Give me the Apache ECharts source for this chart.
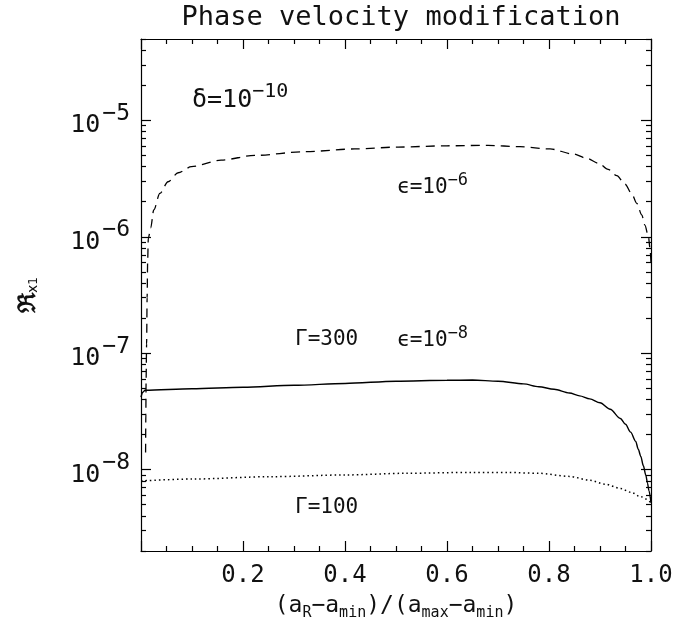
<!DOCTYPE html>
<html><head><meta charset="utf-8">
<script src="https://cdn.jsdelivr.net/npm/echarts@6/dist/echarts.min.js"></script>
<style>html,body{margin:0;padding:0;background:#fff}#c{width:697px;height:636px}</style>
</head><body><div id="c"></div>
<script>
// ---- data ----
const xTickValues = [0.2, 0.4, 0.6, 0.8, 1.0];
const xTickLabels = ['0.2', '0.4', '0.6', '0.8', '1.0'];
const yMajorTicks = [1e-8, 1e-7, 1e-6, 1e-5];
const yTickExponents = ['−8', '−7', '−6', '−5'];

// dashed: eps = 1e-6
const dashedX = [0.009, 0.0095, 0.010, 0.011, 0.012, 0.013, 0.0143, 0.019, 0.025, 0.037, 0.053, 0.073, 0.099, 0.157, 0.223, 0.321, 0.419, 0.504, 0.60, 0.68, 0.743, 0.802, 0.848, 0.874, 0.897, 0.916, 0.933, 0.949, 0.962, 0.972, 0.982, 0.988, 0.995, 0.998, 1.0];
const dashedY = [1.4e-8, 3e-8, 6e-8, 1.2e-7, 3e-7, 6e-7, 9.7e-7, 1.19e-6, 1.7e-6, 2.36e-6, 2.97e-6, 3.55e-6, 4.0e-6, 4.56e-6, 5.0e-6, 5.38e-6, 5.68e-6, 5.9e-6, 6.05e-6, 6.1e-6, 5.95e-6, 5.68e-6, 5.14e-6, 4.72e-6, 4.28e-6, 3.8e-6, 3.35e-6, 2.84e-6, 2.36e-6, 1.94e-6, 1.54e-6, 1.26e-6, 1.0e-6, 8e-7, 6e-7];

// solid: Gamma = 300, eps = 1e-8
const solidX = [0.0, 0.003, 0.008, 0.1, 0.2, 0.3, 0.4, 0.5, 0.6, 0.65, 0.7, 0.75, 0.78, 0.81, 0.84, 0.86, 0.88, 0.90, 0.92, 0.94, 0.95, 0.96, 0.97, 0.975, 0.98, 0.985, 0.99, 0.993, 0.996, 1.0];
const solidY = [4.2e-8, 4.6e-8, 4.8e-8, 4.95e-8, 5.1e-8, 5.3e-8, 5.5e-8, 5.75e-8, 5.85e-8, 5.88e-8, 5.75e-8, 5.45e-8, 5.15e-8, 4.9e-8, 4.55e-8, 4.3e-8, 4.05e-8, 3.75e-8, 3.3e-8, 2.75e-8, 2.45e-8, 2.1e-8, 1.75e-8, 1.5e-8, 1.3e-8, 1.08e-8, 8.9e-9, 7.7e-9, 6.6e-9, 5.2e-9];

// dotted: Gamma = 100
const dottedX = [0.0, 0.1, 0.255, 0.4, 0.52, 0.65, 0.72, 0.78, 0.84, 0.88, 0.91, 0.94, 0.96, 0.98, 1.0];
const dottedY = [8.0e-9, 8.3e-9, 8.7e-9, 9.0e-9, 9.3e-9, 9.47e-9, 9.45e-9, 9.3e-9, 8.75e-9, 8.1e-9, 7.5e-9, 6.9e-9, 6.4e-9, 5.85e-9, 5.2e-9];

const Y_MIN = 2e-9, Y_MAX = 5e-5;
// minor ticks 2..9 x each decade within the range
const yMinorTicks = [];
for (let d = -9; d <= -5; d++) {
  for (let m = 2; m <= 9; m++) {
    const v = m * Math.pow(10, d);
    if (v >= Y_MIN * 0.999 && v <= Y_MAX * 1.001) yMinorTicks.push(v);
  }
}

const FONT = 'DejaVu Sans Mono';
const INK = '#111';
const zip = (xs, ys) => xs.map((x, i) => [x, ys[i]]);

const axisLineStyle = { color: '#000', width: 1.2 };

function xAxisDef(pos, labels) {
  return {
    type: 'value', position: pos, min: 0, max: 1, interval: 0.2,
    axisLine: { show: true, lineStyle: axisLineStyle },
    axisTick: { show: true, inside: true, length: 10, lineStyle: axisLineStyle },
    minorTick: { show: true, splitNumber: 4, length: 5, lineStyle: axisLineStyle },
    splitLine: { show: false }, minorSplitLine: { show: false },
    axisLabel: labels ? {
      show: true, customValues: xTickValues,
      formatter: (v) => xTickLabels[xTickValues.findIndex(t => Math.abs(t - v) < 1e-9)] || '',
      fontFamily: FONT, fontSize: 24, color: INK, margin: 13
    } : { show: false }
  };
}

function yAxisDef(pos, major, withLabels) {
  const o = {
    type: 'log', position: pos, min: Y_MIN, max: Y_MAX, logBase: 10,
    axisLine: { show: major, lineStyle: axisLineStyle },
    axisTick: { show: true, inside: true, length: major ? 10 : 5,
      customValues: major ? yMajorTicks : yMinorTicks, lineStyle: axisLineStyle },
    minorTick: { show: false },
    splitLine: { show: false },
    axisLabel: { show: false }
  };
  if (withLabels) {
    o.axisLabel = {
      show: true, customValues: yMajorTicks, margin: 11,
      formatter: (v) => {
        const i = yMajorTicks.findIndex(t => Math.abs(Math.log10(t) - Math.log10(v)) < 1e-6);
        return '{b|10}{s|' + yTickExponents[i] + '}';
      },
      rich: {
        b: { fontFamily: FONT, fontSize: 25, color: INK, verticalAlign: 'bottom' },
        s: { fontFamily: FONT, fontSize: 23, color: INK, verticalAlign: 'bottom', padding: [0, 0, 13, 2] }
      }
    };
    o.name = '{r|ℜ}{s|x}{t|1}';
    o.nameLocation = 'middle';
    o.nameGap = 100;
    o.nameTextStyle = {
      rich: {
        r: { fontFamily: 'DejaVu Serif', fontSize: 24, color: INK, verticalAlign: 'top', fontWeight: 'bold' },
        s: { fontFamily: 'DejaVu Sans', fontSize: 14, color: INK, verticalAlign: 'top', padding: [9, 0, 0, 0] },
        t: { fontFamily: 'DejaVu Sans', fontSize: 12, color: INK, verticalAlign: 'top', padding: [11, 0, 0, 0] }
      }
    };
  }
  return o;
}

const xMain = xAxisDef('bottom', true);
xMain.name = '{m|(a}{s|R}{m|−a}{s|min}{m|)/(a}{s|max}{m|−a}{s|min}{m|)}';
xMain.nameLocation = 'middle';
xMain.nameGap = 44;
xMain.nameTextStyle = {
  rich: {
    m: { fontFamily: FONT, fontSize: 23, color: INK, verticalAlign: 'top' },
    s: { fontFamily: FONT, fontSize: 15, color: INK, verticalAlign: 'top', padding: [11, 0, 0, 0] }
  }
};

function annot(x, y, base, sup, size, supSize, raise) {
  return {
    type: 'text', x: x, y: y, z: 10,
    style: {
      text: '{b|' + base + '}' + (sup ? '{s|' + sup + '}' : ''),
      fill: INK, fontFamily: FONT, fontSize: size,
      rich: {
        b: { fontFamily: FONT, fontSize: size, fill: INK, verticalAlign: 'bottom' },
        s: { fontFamily: FONT, fontSize: supSize, fill: INK, verticalAlign: 'bottom', padding: [0, 0, raise, 0] }
      },
      verticalAlign: 'top', align: 'left'
    }
  };
}

const chart = echarts.init(document.getElementById('c'), null, { renderer: 'canvas' });
chart.setOption({
  animation: false,
  backgroundColor: '#fff',
  title: {
    text: 'Phase velocity modification', left: 396, top: -1, textAlign: 'center',
    textStyle: { fontFamily: FONT, fontSize: 27, fontWeight: 'normal', color: INK }
  },
  grid: { left: 141, right: 46, top: 39, bottom: 85 },
  xAxis: [xMain, xAxisDef('top', false)],
  yAxis: [yAxisDef('left', true, true), yAxisDef('left', false, false),
          yAxisDef('right', true, false), yAxisDef('right', false, false)],
  series: [
    { type: 'line', name: 'eps1e-6', data: zip(dashedX, dashedY), showSymbol: false,
      smooth: 0.3, smoothMonotone: 'x',
      lineStyle: { color: '#000', width: 1.3, type: [9, 6] } },
    { type: 'line', name: 'G300', data: zip(solidX, solidY), showSymbol: false,
      smooth: 0.3, smoothMonotone: 'x',
      lineStyle: { color: '#000', width: 1.4, type: 'solid' } },
    { type: 'line', name: 'G100', data: zip(dottedX, dottedY), showSymbol: false,
      smooth: 0.3, smoothMonotone: 'x',
      lineStyle: { color: '#000', width: 1.5, type: [1.5, 3] } }
  ],
  graphic: [
    annot(192, 82, 'δ=10', '−10', 25, 20, 11),
    annot(397, 172, 'ϵ=10', '−6', 21, 17, 9),
    annot(295, 329, 'Γ=300', '', 21, 17, 9),
    annot(397, 325, 'ϵ=10', '−8', 21, 17, 9),
    annot(295, 497, 'Γ=100', '', 21, 17, 9)
  ]
});
</script>
</body></html>
